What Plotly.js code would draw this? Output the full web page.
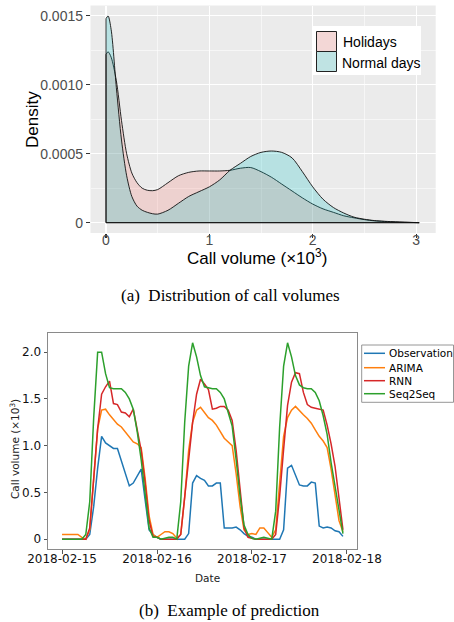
<!DOCTYPE html>
<html><head><meta charset="utf-8">
<script src="https://cdn.plot.ly/plotly-3.0.1.min.js"></script>
<style>html,body{margin:0;padding:0;background:#fff;} #plot{width:454px;height:622px;}</style>
</head><body><div id="plot"></div>
<script>
// ---------- Panel (a): density of call volumes (x in 10^3 calls) ----------
const densityX = [0,0.02,0.05,0.1,0.15,0.2,0.25,0.3,0.35,0.4,0.45,0.5,0.6,0.7,0.8,0.9,1.0,1.1,1.2,1.3,1.4,1.5,1.6,1.7,1.8,1.9,2.0,2.1,2.2,2.3,2.4,2.5,2.6,2.8,3.03];
const holidaysDensity = [0.00122,0.00124,0.00120,0.00103,0.00074,0.00050,0.00036,0.00029,0.00025,0.000235,0.000232,0.00024,0.00029,0.00034,0.000365,0.000375,0.000375,0.000375,0.00038,0.000395,0.0004,0.00037,0.00033,0.00028,0.00023,0.00018,0.000135,0.0001,0.000075,0.00005,0.000035,0.000022,0.000013,0.000005,0];
const normalDensity = [0.00148,0.00150,0.00140,0.00098,0.00060,0.00034,0.00019,0.00012,0.00009,0.000075,0.000065,0.000062,0.00009,0.00014,0.00019,0.000225,0.00026,0.00031,0.00038,0.00043,0.00048,0.00051,0.00052,0.00051,0.00047,0.00037,0.00026,0.00017,0.00011,0.00007,0.00004,0.000025,0.000015,0.000006,0];
const densityNames = ['Holidays','Normal days'];
const densityTickVals = [0,0.0005,0.001,0.0015];
const densityTickText = ['0','0.0005','0.0010','0.0015'];

// ---------- Panel (b): hourly call volume (x 10^3) ----------
const days = ['2018-02-15','2018-02-16','2018-02-17'];
const hoursOfDay = ['00','01','02','03','04','05','06','07','08','09','10','11','12','13','14','15','16','17','18','19','20','21','22','23'];
const observation = [
 0,0,0,0,0,0,0,0.05,0.35,0.76,1.10,1.03,1.00,0.97,0.97,0.84,0.71,0.57,0.60,0.67,0.75,0.42,0.10,0.05,
 0.02,0,0,0,0,0,0,0,0.06,0.60,0.68,0.65,0.63,0.57,0.57,0.60,0.60,0.12,0.12,0.12,0.13,0.10,0.06,0.03,
 0.02,0,0,0,0,0,0,0,0.10,0.76,0.79,0.68,0.58,0.57,0.57,0.61,0.60,0.14,0.12,0.13,0.12,0.09,0.08,0.03];
const arima = [
 0.05,0.05,0.05,0.05,0.05,0.02,0,0.10,0.62,1.18,1.38,1.39,1.33,1.28,1.23,1.20,1.15,1.10,1.04,1.02,0.98,0.65,0.25,0.05,
 0.02,0.05,0.08,0.08,0.06,0.01,0.05,0.45,0.95,1.25,1.38,1.41,1.35,1.30,1.27,1.22,1.15,1.08,1.04,1.00,0.70,0.35,0.10,0.05,
 0.06,0.05,0.12,0.12,0.07,0.02,0.10,0.65,1.10,1.30,1.38,1.42,1.37,1.33,1.29,1.24,1.17,1.10,1.05,0.98,0.75,0.45,0.20,0.08];
const rnn = [
 0,0,0,0,0,0,0,0.12,0.62,1.18,1.55,1.63,1.69,1.45,1.44,1.36,1.35,1.31,1.39,1.17,0.95,0.60,0.20,0.03,
 0.02,0,0,0,0,0,0.05,0.45,0.85,1.25,1.55,1.71,1.66,1.60,1.39,1.40,1.42,1.42,1.38,1.27,0.95,0.50,0.12,0.02,
 0.01,0,0,0,0,0,0.05,0.46,0.96,1.43,1.68,1.78,1.77,1.57,1.44,1.41,1.40,1.39,1.38,1.22,1.02,0.78,0.45,0.10];
const seq2seq = [
 0,0,0,0,0,0,0.05,0.40,1.30,2.00,2.00,1.77,1.62,1.61,1.61,1.61,1.57,1.50,1.39,1.15,0.85,0.45,0.12,0.02,
 0.02,0,0.01,0.02,0.02,0,0.40,1.25,1.85,2.10,1.95,1.75,1.63,1.62,1.61,1.61,1.57,1.50,1.35,1.21,0.85,0.46,0.15,0.05,
 0.01,0,0.01,0.02,0.01,0,0.30,1.20,1.85,2.10,1.95,1.75,1.65,1.62,1.61,1.61,1.57,1.48,1.32,1.12,0.82,0.57,0.28,0.06];
const seriesNames = ['Observation','ARIMA','RNN','Seq2Seq'];
const seriesColors = ['#1f77b4','#ff7f0e','#d62728','#2ca02c'];
const volTickVals = [0,0.5,1,1.5,2];
const volTickText = ['0','0.5','1.0','1.5','2.0'];

const times = [];
days.forEach(d => hoursOfDay.forEach(h => times.push(d + ' ' + h + ':00')));

// ---------- helpers: pixel -> paper ----------
const W = 454, H = 622;
const px = v => v / W;
const py = v => 1 - v / H;

const fills = ['rgba(248,118,109,0.22)','rgba(0,191,196,0.22)'];
const densities = [holidaysDensity, normalDensity];
const traces = [];
densities.forEach((d, i) => {
  traces.push({
    x: densityX, y: d, xaxis: 'x', yaxis: 'y', type: 'scatter', mode: 'lines',
    name: densityNames[i], fill: 'tozeroy', fillcolor: fills[i],
    line: {color: '#111', width: 0.9, shape: 'spline', smoothing: 0.8}, showlegend: false, hoverinfo: 'skip'
  });
});
densities.forEach((d, i) => {
  traces.push({
    x: [densityX[0], densityX[0], densityX[densityX.length-1]], y: [d[0], 0, 0],
    xaxis: 'x', yaxis: 'y', type: 'scatter', mode: 'lines',
    line: {color: '#111', width: 0.9}, showlegend: false, hoverinfo: 'skip'
  });
});
[observation, arima, rnn, seq2seq].forEach((s, i) => {
  traces.push({
    x: times, y: s, xaxis: 'x2', yaxis: 'y2', type: 'scatter', mode: 'lines',
    name: seriesNames[i], line: {color: seriesColors[i], width: 1.5}, showlegend: false, hoverinfo: 'skip'
  });
});

const sansA = 'Liberation Sans, Arial, sans-serif';
const sansB = 'DejaVu Sans, sans-serif';
const serif = 'Liberation Serif, Times New Roman, serif';

const shapes = [
  // ggplot panel background
  {type:'rect', xref:'x domain', yref:'y domain', x0:0, x1:1, y0:0, y1:1, fillcolor:'#EBEBEB', line:{width:0}, layer:'below'},
  // legend (a)
  {type:'rect', xref:'paper', yref:'paper', x0:px(312), x1:px(421), y0:py(26), y1:py(75), fillcolor:'#ffffff', line:{width:0}},
  {type:'rect', xref:'paper', yref:'paper', x0:px(316.5), x1:px(336.5), y0:py(31.5), y1:py(51.5), fillcolor:'#F3D7D6', line:{color:'#222', width:1}},
  {type:'rect', xref:'paper', yref:'paper', x0:px(316.5), x1:px(336.5), y0:py(51.5), y1:py(71.5), fillcolor:'#BFE3E3', line:{color:'#222', width:1}},
  // legend (b) frame
  {type:'rect', xref:'paper', yref:'paper', x0:px(361.7), x1:px(453.5), y0:py(345), y1:py(402.3), fillcolor:'#ffffff', line:{color:'#8a8a8a', width:0.9}}
];
const legYs = [353.3, 367.7, 380.7, 393.7];
legYs.forEach((yy, i) => {
  shapes.push({type:'line', xref:'paper', yref:'paper', x0:px(364), x1:px(385), y0:py(yy), y1:py(yy), line:{color:seriesColors[i], width:1.5}});
});

const annotations = [
  {text:'Density', x:px(33), y:py(120), xref:'paper', yref:'paper', showarrow:false, textangle:-90, xanchor:'center', yanchor:'middle', font:{family:sansA, size:17, color:'#000'}},
  {text:'Call volume (×10<sup>3</sup>)', x:px(257), y:py(257), xref:'paper', yref:'paper', showarrow:false, xanchor:'center', yanchor:'middle', font:{family:sansA, size:17, color:'#000'}},
  {text:'(a)\u2002Distribution of call volumes', x:px(230), y:py(295), xref:'paper', yref:'paper', showarrow:false, xanchor:'center', yanchor:'middle', font:{family:serif, size:17, color:'#000'}},
  {text:densityNames[0], x:px(340.5), y:py(42), xref:'paper', yref:'paper', showarrow:false, xanchor:'left', yanchor:'middle', font:{family:sansA, size:14, color:'#000'}},
  {text:densityNames[1], x:px(339.5), y:py(63), xref:'paper', yref:'paper', showarrow:false, xanchor:'left', yanchor:'middle', font:{family:sansA, size:14, color:'#000'}},
  {text:'Call volume (×10<sup>3</sup>)', x:px(14), y:py(449), xref:'paper', yref:'paper', showarrow:false, textangle:-90, xanchor:'center', yanchor:'middle', font:{family:sansB, size:10.5, color:'#222'}},
  {text:'Date', x:px(207), y:py(578), xref:'paper', yref:'paper', showarrow:false, xanchor:'center', yanchor:'middle', font:{family:sansB, size:10.5, color:'#222'}},
  {text:'(b)\u2002Example of prediction', x:px(229), y:py(610.5), xref:'paper', yref:'paper', showarrow:false, xanchor:'center', yanchor:'middle', font:{family:serif, size:17, color:'#000'}}
];
legYs.forEach((yy, i) => {
  annotations.push({text:seriesNames[i], x:px(386.5), y:py(yy), xref:'paper', yref:'paper', showarrow:false, xanchor:'left', yanchor:'middle', font:{family:sansB, size:10.5, color:'#000'}});
});

const layout = {
  width: W, height: H, margin: {l:0, r:0, t:0, b:0},
  paper_bgcolor: '#ffffff', plot_bgcolor: 'rgba(0,0,0,0)', showlegend: false,
  xaxis: {
    domain: [px(90.5), px(435.7)], anchor: 'y', range: [-0.15, 3.19], automargin: false,
    tickmode: 'array', tickvals: [0,1,2,3], ticktext: ['0','1','2','3'],
    showgrid: true, gridcolor: '#ffffff', gridwidth: 1.1, zeroline: false, showline: false,
    minor: {tickmode: 'array', tickvals: [0.5,1.5,2.5], showgrid: true, gridcolor: '#ffffff', gridwidth: 0.55, ticks: ''},
    ticks: 'outside', ticklen: 3.7, tickwidth: 1.1, tickcolor: '#333', ticklabelstandoff: -10,
    tickfont: {family: sansA, size: 14, color: '#4d4d4d'}
  },
  yaxis: {
    domain: [py(233), py(5.6)], anchor: 'x', range: [-0.000075, 0.001575], automargin: false,
    tickmode: 'array', tickvals: densityTickVals, ticktext: densityTickText,
    showgrid: true, gridcolor: '#ffffff', gridwidth: 1.1, zeroline: false, showline: false,
    minor: {tickmode: 'array', tickvals: [0.00025,0.00075,0.00125], showgrid: true, gridcolor: '#ffffff', gridwidth: 0.55, ticks: ''},
    ticks: 'outside', ticklen: 3.7, tickwidth: 1.1, tickcolor: '#333',
    tickfont: {family: sansA, size: 14, color: '#4d4d4d'}
  },
  xaxis2: {
    type: 'date', domain: [px(48), px(357)], anchor: 'y2', automargin: false,
    range: ['2018-02-14 20:27', '2018-02-18 02:33'],
    tickmode: 'linear', tick0: '2018-02-15', dtick: 86400000, tickformat: '%Y-%m-%d',
    showgrid: false, zeroline: false, showline: true, mirror: true, linecolor: '#8a8a8a', linewidth: 1,
    ticks: 'outside', ticklen: 3.5, tickwidth: 1, tickcolor: '#555', ticklabelstandoff: -5,
    tickfont: {family: sansB, size: 12, color: '#111'}
  },
  yaxis2: {
    domain: [py(549), py(333)], anchor: 'x2', range: [-0.105, 2.205], automargin: false,
    tickmode: 'array', tickvals: volTickVals, ticktext: volTickText,
    showgrid: false, zeroline: false, showline: true, mirror: true, linecolor: '#8a8a8a', linewidth: 1,
    ticks: 'outside', ticklen: 3.5, tickwidth: 1, tickcolor: '#555',
    tickfont: {family: sansB, size: 12, color: '#111'}
  },
  shapes: shapes,
  annotations: annotations
};

Plotly.newPlot('plot', traces, layout, {staticPlot: true, displayModeBar: false});
</script>
</body></html>
